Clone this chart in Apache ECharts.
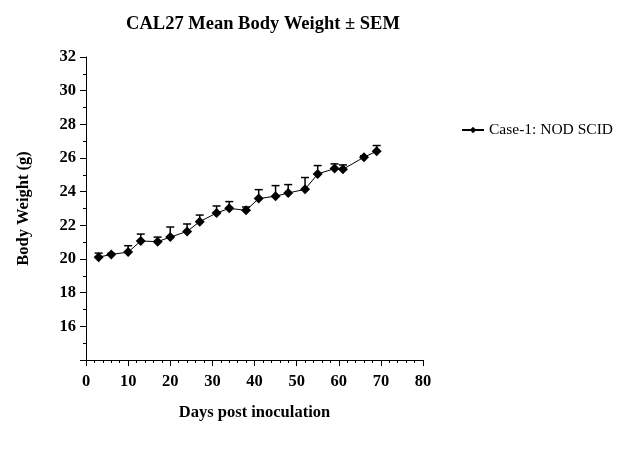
<!DOCTYPE html>
<html>
<head>
<meta charset="utf-8">
<script src="https://cdn.jsdelivr.net/npm/echarts@6/dist/echarts.min.js"></script>
<style>html,body{margin:0;padding:0;background:#fff}#c{width:623px;height:454px}</style>
</head>
<body>
<div id="c"></div>
<script>
var days = [3, 6, 10, 13, 17, 20, 24, 27, 31, 34, 38, 41, 45, 48, 52, 55, 59, 61, 66, 69];
var meanWeight = [20.11, 20.27, 20.41, 21.07, 21.03, 21.3, 21.64, 22.22, 22.73, 23.01, 22.89, 23.59, 23.73, 23.92, 24.14, 25.05, 25.37, 25.33, 26.05, 26.4];
var sem = [0.24, 0.06, 0.38, 0.41, 0.27, 0.6, 0.44, 0.39, 0.42, 0.4, 0.2, 0.53, 0.63, 0.5, 0.7, 0.5, 0.28, 0.26, 0.08, 0.34];
var seriesName = 'Case-1: NOD SCID';
var yTicks = [16, 18, 20, 22, 24, 26, 28, 30, 32];

var font = '"Liberation Serif", "Times New Roman", serif';
var lineData = days.map(function (d, i) { return [d, meanWeight[i]]; });
var errData = days.map(function (d, i) { return [d, meanWeight[i], meanWeight[i] + sem[i]]; });

var chart = echarts.init(document.getElementById('c'));
chart.setOption({
  animation: false,
  backgroundColor: '#fff',
  title: {
    text: 'CAL27 Mean Body Weight \u00b1 SEM',
    left: 258, top: 10, textAlign: 'center',
    textStyle: { fontFamily: font, fontWeight: 'bold', fontSize: 18.5, color: '#000' }
  },
  legend: {
    left: 456, top: 117,
    itemWidth: 22, itemHeight: 8,
    data: [seriesName],
    textStyle: { fontFamily: font, fontSize: 15.5, color: '#000' }
  },
  grid: { left: 86, right: 200, top: 57, bottom: 94 },
  xAxis: {
    type: 'value', min: 0, max: 80, interval: 10,
    name: 'Days post inoculation', nameLocation: 'middle', nameGap: 44,
    nameTextStyle: { fontFamily: font, fontWeight: 'bold', fontSize: 16.5, color: '#000' },
    axisLine: { onZero: false, lineStyle: { color: '#000', width: 1 } },
    axisTick: { show: true, length: 6, lineStyle: { color: '#000' } },
    minorTick: { show: true, splitNumber: 5, length: 3, lineStyle: { color: '#000' } },
    splitLine: { show: false },
    axisLabel: { fontFamily: font, fontWeight: 'bold', fontSize: 16.5, color: '#000', margin: 13 }
  },
  yAxis: {
    type: 'value', min: 14, max: 32, interval: 2,
    name: 'Body Weight (g)', nameLocation: 'middle', nameGap: 54,
    nameTextStyle: { fontFamily: font, fontWeight: 'bold', fontSize: 16.5, color: '#000' },
    axisLine: { show: true, onZero: false, lineStyle: { color: '#000', width: 1 } },
    axisTick: { show: true, length: 6, lineStyle: { color: '#000' } },
    minorTick: { show: true, splitNumber: 2, length: 3, lineStyle: { color: '#000' } },
    splitLine: { show: false },
    axisLabel: {
      fontFamily: font, fontWeight: 'bold', fontSize: 16.5, color: '#000', margin: 10,
      formatter: function (v) { return yTicks.indexOf(v) >= 0 ? String(v) : ''; }
    }
  },
  series: [
    {
      name: seriesName + '_err',
      type: 'custom',
      data: errData,
      z: 1,
      renderItem: function (params, api) {
        var x = api.value(0);
        var p0 = api.coord([x, api.value(1)]);
        var p1 = api.coord([x, api.value(2)]);
        var hw = 4;
        return {
          type: 'group',
          children: [
            { type: 'line', shape: { x1: p0[0], y1: p0[1], x2: p1[0], y2: p1[1] }, style: { stroke: '#000', lineWidth: 1.5 } },
            { type: 'line', shape: { x1: p1[0] - hw, y1: p1[1], x2: p1[0] + hw, y2: p1[1] }, style: { stroke: '#000', lineWidth: 1.5 } }
          ]
        };
      }
    },
    {
      name: seriesName,
      type: 'line',
      data: lineData,
      z: 3,
      symbol: 'diamond',
      symbolSize: 10,
      itemStyle: { color: '#000' },
      lineStyle: { color: '#000', width: 1 }
    }
  ]
});
</script>
</body>
</html>
